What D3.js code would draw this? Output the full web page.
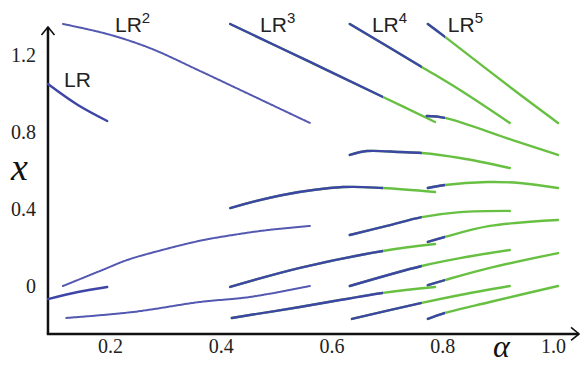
<!DOCTYPE html>
<html>
<head>
<meta charset="utf-8">
<script src="https://cdn.jsdelivr.net/npm/d3@7"></script>
<style>
  body { margin: 0; background: #fff; }
  svg { display: block; }
  .serif { font-family: "Liberation Serif", "Times New Roman", "DejaVu Serif", serif; }
</style>
</head>
<body>
<div id="chart"></div>
<script>
// branches of each attractor, points are [alpha, x]
const lr1 = [
    [[0.088, 1.049], [0.142, 0.940], [0.195, 0.857]],
    [[0.088, -0.068], [0.142, -0.031], [0.195, -0.005]]
];
const lr2 = [
    [[0.115, 1.361], [0.195, 1.309], [0.272, 1.236], [0.3625, 1.117], [0.462, 0.982], [0.561, 0.847]],
    [[0.115, 0.0], [0.182, 0.078], [0.231, 0.135], [0.285, 0.180], [0.3625, 0.235], [0.422, 0.265], [0.483, 0.290], [0.561, 0.312]],
    [[0.121, -0.166], [0.242, -0.135], [0.3625, -0.083], [0.453, -0.057], [0.561, 0.0]]
];
const lr3 = [
    [[0.417, 1.361], [0.561, 1.164], [0.693, 0.982], [0.787, 0.852]],
    [[0.417, 0.405], [0.512, 0.473], [0.621, 0.514], [0.693, 0.509], [0.787, 0.488]],
    [[0.417, -0.005], [0.543, 0.094], [0.693, 0.182], [0.787, 0.218]],
    [[0.420, -0.166], [0.543, -0.109], [0.693, -0.036], [0.787, -0.005]]
];
const lr4 = [
    [[0.633, 1.361], [0.763, 1.138], [0.832, 1.018], [0.922, 0.847]],
    [[0.633, 0.681], [0.664, 0.701], [0.7235, 0.696], [0.763, 0.691], [0.832, 0.665], [0.922, 0.613]],
    [[0.633, 0.265], [0.700, 0.312], [0.763, 0.358], [0.832, 0.384], [0.922, 0.390]],
    [[0.633, 0.0], [0.763, 0.104], [0.832, 0.145], [0.922, 0.187]],
    [[0.637, -0.171], [0.763, -0.088], [0.832, -0.047], [0.922, 0.0]]
];
const lr5 = [
    [[0.774, 1.361], [0.805, 1.294], [0.927, 1.023], [1.009, 0.847]],
    [[0.772, 0.883], [0.805, 0.873], [0.927, 0.758], [1.009, 0.681]],
    [[0.774, 0.509], [0.805, 0.525], [0.882, 0.540], [0.940, 0.535], [1.009, 0.509]],
    [[0.774, 0.229], [0.805, 0.255], [0.886, 0.312], [1.009, 0.343]],
    [[0.774, 0.005], [0.805, 0.031], [0.886, 0.094], [1.009, 0.171]],
    [[0.774, -0.171], [0.805, -0.140], [0.886, -0.083], [1.009, 0.0]]
];
const families = [lr1, lr2, lr3, lr4, lr5];
const familyPowers = ["", "2", "3", "4", "5"];
// alpha where the branches turn green
const greenFrom = [null, null, 0.693, 0.763, 0.805];
const labelAt = [[0.117, 1.034], [0.209, 1.319], [0.471, 1.319], [0.673, 1.319], [0.810, 1.319]];
const alphaTicks = [0.2, 0.4, 0.6, 0.8, 1.0];
const xTicks = [0, 0.4, 0.8, 1.2];
const alphaExtent = [0.088, 1.047];
const xExtent = [-0.249, 1.345];

const width = 581, height = 365;
const blue = "#3d45a6", green = "#68c043";

let svg = d3.select("#chart").append("svg")
    .attr("width", width)
    .attr("height", height);

let x = d3.scaleLinear().domain([0.2, 1.0]).range([110, 553]);
let y = d3.scaleLinear().domain([0, 1.2]).range([286, 55]);

let line = d3.line()
    .curve(d3.curveCatmullRom.alpha(0.5))
    .x(d => x(d[0]))
    .y(d => y(d[1]));

let x0 = x(alphaExtent[0]), x1 = x(alphaExtent[1]);
let y0 = y(xExtent[0]), y1 = y(xExtent[1]);

// axes with open arrow heads
let axes = svg.append("g")
    .attr("fill", "none")
    .attr("stroke", "#111")
    .attr("stroke-width", 2.5);
axes.append("path").attr("d", `M${x0},${y0}V${y1}`);
axes.append("path").attr("d", `M${x0 - 1.2},${y0}H${x1}`);
axes.append("path")
    .attr("stroke-width", 1.6)
    .attr("d", `M${x0 - 6.5},${y1 + 8}L${x0},${y1}L${x0 + 6.5},${y1 + 8}`);
axes.append("path")
    .attr("stroke-width", 1.6)
    .attr("d", `M${x1 - 8},${y0 - 6.5}L${x1},${y0}L${x1 - 8},${y0 + 6.5}`);

let gx = svg.append("g")
    .attr("transform", "translate(0," + y0 + ")")
    .call(d3.axisBottom(x).tickValues(alphaTicks).tickSize(0).tickPadding(5).tickFormat(d3.format(".1f")));
let gy = svg.append("g")
    .attr("transform", "translate(" + x0 + ",0)")
    .call(d3.axisLeft(y).tickValues(xTicks).tickSize(0).tickPadding(12)
        .tickFormat(d => d === 0 ? "0" : d3.format(".1f")(d)));
[gx, gy].forEach(g => {
    g.attr("font-family", null).attr("font-size", null);
    g.select(".domain").remove();
    g.selectAll("text")
        .attr("class", "serif")
        .attr("fill", "#222")
        .attr("font-size", 20);
});

svg.append("text")
    .attr("class", "serif")
    .attr("x", 11).attr("y", 180)
    .attr("fill", "#111")
    .attr("font-style", "italic")
    .attr("font-size", 38)
    .text("x");
svg.append("text")
    .attr("class", "serif")
    .attr("x", 493).attr("y", 357)
    .attr("fill", "#111")
    .attr("font-style", "italic")
    .attr("font-size", 32)
    .text("α");

// branches: green underneath, blue clipped to the part left of the switch
families.forEach((fam, i) => {
    let g = svg.append("g").attr("fill", "none").attr("stroke-linecap", "round");
    let thin = i === 1;
    if (greenFrom[i] !== null) {
        g.selectAll(".green").data(fam).enter().append("path")
            .attr("class", "green")
            .attr("stroke", green)
            .attr("stroke-width", 2.4)
            .attr("d", line);
        svg.append("clipPath").attr("id", "clip" + i)
            .append("rect")
            .attr("x", 0).attr("y", 0)
            .attr("width", x(greenFrom[i])).attr("height", height);
    }
    g.selectAll(".blue").data(fam).enter().append("path")
        .attr("class", "blue")
        .attr("stroke", thin ? "#5358b0" : blue)
        .attr("stroke-width", thin ? 2 : 2.4)
        .attr("stroke-dasharray", thin ? "1.6 1" : null)
        .attr("clip-path", greenFrom[i] !== null ? "url(#clip" + i + ")" : null)
        .attr("d", line);
});

// family labels
let labels = svg.append("g")
    .attr("fill", "#222")
    .style("font-family", "Arial, 'Liberation Sans', sans-serif")
    .style("font-size", "21px");
labelAt.forEach((p, i) => {
    let t = labels.append("text").attr("x", x(p[0])).attr("y", y(p[1])).text("LR");
    if (familyPowers[i]) {
        t.append("tspan")
            .attr("dy", -9)
            .style("font-size", "15px")
            .text(familyPowers[i]);
    }
});
</script>
</body>
</html>
